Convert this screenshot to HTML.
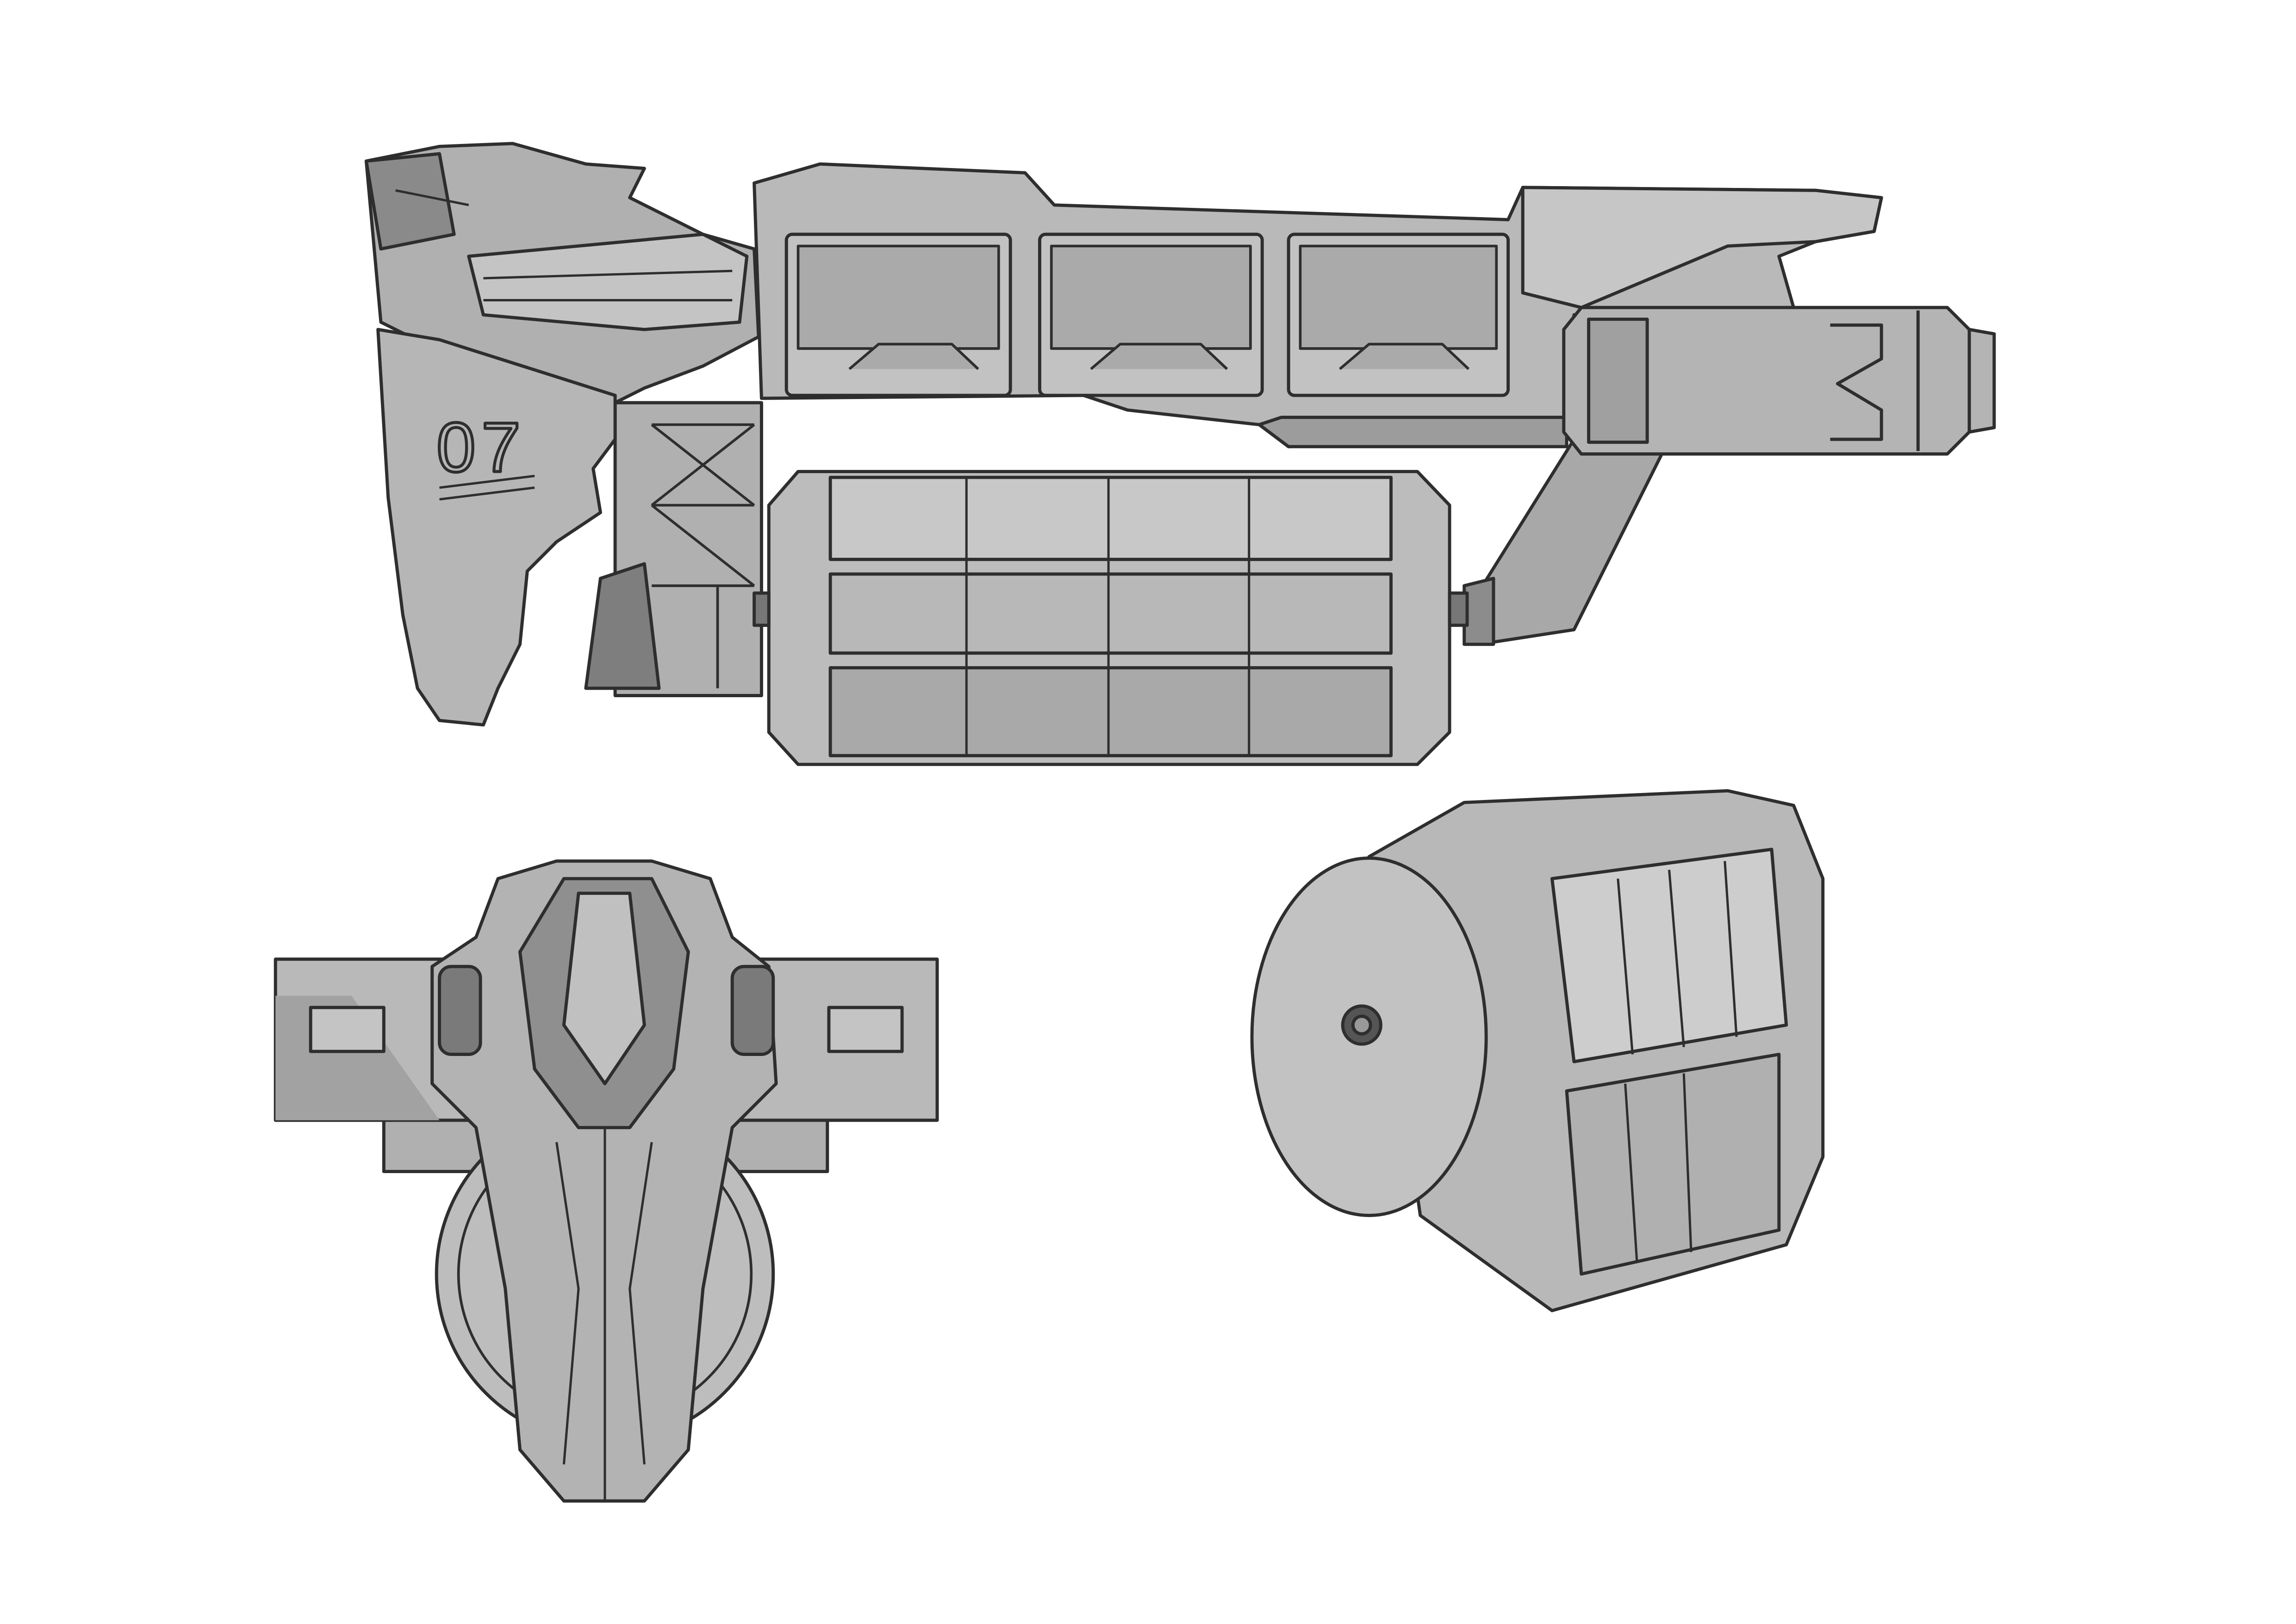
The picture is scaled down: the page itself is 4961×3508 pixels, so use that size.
<!DOCTYPE html>
<html><head><meta charset="utf-8"><style>
html,body{margin:0;padding:0;background:#fff;}
svg{display:block;}
</style></head><body>
<svg width="4961" height="3508" viewBox="0 0 1568 1109" xmlns="http://www.w3.org/2000/svg" stroke="#2e2e2e" stroke-width="2.2" stroke-linejoin="round" fill="none">
<rect x="0" y="0" width="1568" height="1109" fill="#fff" stroke="none"/>

<!-- scaffold -->
<rect x="420" y="275" width="100" height="200" fill="#b0b0b0"/>
<path d="M400 470 L410 395 L440 385 L450 470 Z" fill="#7e7e7e"/>
<g stroke-width="1.8">
<line x1="445" y1="290" x2="515" y2="290"/><line x1="445" y1="345" x2="515" y2="345"/><line x1="445" y1="400" x2="515" y2="400"/>
<line x1="445" y1="290" x2="515" y2="345"/><line x1="515" y1="290" x2="445" y2="345"/>
<line x1="445" y1="345" x2="515" y2="400"/><line x1="490" y1="400" x2="490" y2="470"/>
</g>

<!-- arm -->
<path d="M1075 300 L1140 300 L1075 430 L1010 440 L1000 420 Z" fill="#a8a8a8"/>
<path d="M1000 400 L1020 395 L1020 440 L1000 440 Z" fill="#8c8c8c"/>

<!-- main hull -->
<path d="M515 125 L560 112 L700 118 L720 140 L1030 150 L1040 128 L1240 130 L1285 135 L1280 158 L1240 165 L1215 175 L1225 210 L1075 215 L1070 300 L880 305 L860 290 L770 280 L740 270 L520 272 Z" fill="#b9b9b9"/>
<path d="M1040 128 L1240 130 L1285 135 L1280 158 L1240 165 L1180 168 L1080 210 L1040 200 Z" fill="#c6c6c6"/>
<path d="M860 290 L880 305 L1070 305 L1070 285 L875 285 Z" fill="#9c9c9c"/>
<g fill="#c2c2c2">
<rect x="537" y="160" width="153" height="110" rx="4"/>
<rect x="710" y="160" width="152" height="110" rx="4"/>
<rect x="880" y="160" width="150" height="110" rx="4"/>
</g>
<g fill="#aaaaaa" stroke-width="1.8">
<rect x="545" y="168" width="137" height="70"/>
<rect x="718" y="168" width="136" height="70"/>
<rect x="888" y="168" width="134" height="70"/>
<path d="M580 252 L600 235 L650 235 L668 252"/>
<path d="M745 252 L765 235 L820 235 L838 252"/>
<path d="M915 252 L935 235 L985 235 L1003 252"/>
</g>
<path d="M1080 210 L1330 210 L1345 225 L1362 228 L1362 292 L1345 295 L1330 310 L1080 310 L1068 295 L1068 225 Z" fill="#b4b4b4"/>
<path d="M1085 218 L1125 218 L1125 302 L1085 302 Z" fill="#a0a0a0"/>
<path d="M1250 222 L1285 222 L1285 245 L1255 262 L1285 280 L1285 300 L1250 300" fill="none"/>
<line x1="1310" y1="212" x2="1310" y2="308"/>
<line x1="1345" y1="225" x2="1345" y2="295"/>

<!-- container -->
<path d="M545 322 L968 322 L990 345 L990 500 L968 522 L545 522 L525 500 L525 345 Z" fill="#bcbcbc"/>
<rect x="567" y="326" width="383" height="56" fill="#c8c8c8"/>
<rect x="567" y="392" width="383" height="54" fill="#b8b8b8"/>
<rect x="567" y="456" width="383" height="60" fill="#a9a9a9"/>
<g stroke-width="1.6">
<line x1="660" y1="326" x2="660" y2="516"/>
<line x1="757" y1="326" x2="757" y2="516"/>
<line x1="853" y1="326" x2="853" y2="516"/>
</g>
<rect x="515" y="405" width="10" height="22" fill="#777"/>
<rect x="990" y="405" width="12" height="22" fill="#777"/>

<!-- cockpit -->
<path d="M250 110 L300 100 L350 98 L400 112 L440 115 L430 135 L480 160 L515 170 L518 230 L480 250 L440 265 L420 275 L300 240 L260 220 Z" fill="#b0b0b0"/>
<path d="M320 175 L480 160 L510 175 L505 220 L440 225 L330 215 Z" fill="#c4c4c4"/>
<path d="M250 110 L300 105 L310 160 L260 170 Z" fill="#8a8a8a"/>
<g stroke-width="1.6"><line x1="330" y1="190" x2="500" y2="185"/><line x1="330" y1="205" x2="500" y2="205"/><line x1="270" y1="130" x2="320" y2="140"/></g>
<path d="M258 225 L300 232 L420 270 L420 300 L405 320 L410 350 L380 370 L360 390 L355 440 L340 470 L330 495 L300 492 L285 470 L275 420 L265 340 Z" fill="#b6b6b6"/>
<text x="298" y="322" font-family="Liberation Sans, sans-serif" font-size="48" fill="none" stroke="#2e2e2e" stroke-width="2" style="letter-spacing:4px">07</text>
<g stroke-width="1.6"><line x1="300" y1="333" x2="365" y2="325"/><line x1="300" y1="341" x2="365" y2="333"/></g>

<!-- top view -->
<rect x="262" y="760" width="303" height="40" fill="#b0b0b0"/>
<rect x="188" y="655" width="452" height="110" fill="#b9b9b9"/>
<path d="M188 680 L240 680 L300 765 L188 765 Z" fill="#a2a2a2" stroke="none"/>
<rect x="212" y="688" width="50" height="30" fill="#c4c4c4"/>
<rect x="566" y="688" width="50" height="30" fill="#c4c4c4"/>
<circle cx="413" cy="870" r="115" fill="#bdbdbd"/>
<circle cx="413" cy="870" r="100" fill="none" stroke-width="1.8"/>
<path d="M340 600 L380 588 L445 588 L485 600 L500 640 L525 660 L530 740 L500 770 L480 880 L470 990 L440 1025 L385 1025 L355 990 L345 880 L325 770 L295 740 L295 660 L325 640 Z" fill="#b3b3b3"/>
<path d="M385 600 L445 600 L470 650 L460 730 L430 770 L395 770 L365 730 L355 650 Z" fill="#8f8f8f"/>
<path d="M395 610 L430 610 L440 700 L413 740 L385 700 Z" fill="#c0c0c0"/>
<g stroke-width="1.6"><line x1="413" y1="770" x2="413" y2="1025"/><path d="M380 780 L395 880 L385 1000"/><path d="M445 780 L430 880 L440 1000"/></g>
<g fill="#7a7a7a"><rect x="300" y="660" width="28" height="60" rx="8"/><rect x="500" y="660" width="28" height="60" rx="8"/></g>

<!-- cylinder -->
<path d="M935 585 L1000 548 L1180 540 L1225 550 L1245 600 L1245 790 L1220 850 L1060 895 L970 830 Z" fill="#b8b8b8"/>
<path d="M1060 600 L1210 580 L1220 700 L1075 725 Z" fill="#cdcdcd"/>
<path d="M1070 745 L1215 720 L1215 840 L1080 870 Z" fill="#b0b0b0"/>
<g stroke-width="1.6"><line x1="1105" y1="600" x2="1115" y2="720"/><line x1="1140" y1="594" x2="1150" y2="715"/><line x1="1178" y1="588" x2="1186" y2="708"/>
<line x1="1110" y1="740" x2="1118" y2="862"/><line x1="1150" y1="733" x2="1155" y2="855"/></g>
<ellipse cx="935" cy="708" rx="80" ry="122" fill="#c2c2c2"/>
<circle cx="930" cy="700" r="13" fill="#555"/>
<circle cx="930" cy="700" r="6" fill="#999"/>
</svg>
</body></html>
